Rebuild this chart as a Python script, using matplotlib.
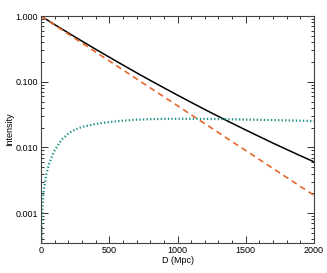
import matplotlib
matplotlib.use("Agg")
import matplotlib.pyplot as plt
from matplotlib.ticker import FixedLocator, MultipleLocator, LogLocator, NullFormatter

plt.rcParams['font.family'] = ['Liberation Sans', 'DejaVu Sans']

# distance grid (Mpc) for the two attenuation curves
dist = [0, 100, 200, 300, 400, 500, 600, 700, 800, 900, 1000,
        1100, 1200, 1300, 1400, 1500, 1600, 1700, 1800, 1900, 2000]
total = [1.0, 0.743, 0.555, 0.416, 0.313, 0.237, 0.180, 0.137, 0.105, 0.0809, 0.0625,
         0.0485, 0.0378, 0.0296, 0.0233, 0.0184, 0.0146, 0.0116, 0.00929, 0.00746, 0.00602]
direct = [1.0, 0.730, 0.533, 0.389, 0.284, 0.2075, 0.1515, 0.1106, 0.0808, 0.0590, 0.0431,
          0.0314, 0.0230, 0.0168, 0.0122, 0.00895, 0.00653, 0.00477, 0.00348, 0.00254, 0.00186]

# scattered component, finer near zero
dist_sc = [0, 5, 10, 20, 40, 60, 80, 100, 150, 200, 250, 300, 400, 500, 600, 700,
           800, 900, 1000, 1200, 1400, 1600, 1800, 2000]
scattered = [0.0001, 0.0006, 0.0012, 0.0022, 0.0040, 0.0057, 0.0073, 0.0090, 0.0130,
             0.0163, 0.0187, 0.0205, 0.0228, 0.0243, 0.0255, 0.0264, 0.0269, 0.0272,
             0.0273, 0.0272, 0.0268, 0.0263, 0.0258, 0.0252]

fig = plt.figure(figsize=(3.27, 2.73), dpi=100)
ax = fig.add_axes([0.1254, 0.110, 0.835, 0.831])

ax.plot(dist, total, color='black', lw=1.1)
ax.plot(dist, direct, color='#e5672a', lw=1.2, ls=(0, (3.5, 2.5)))
ax.plot(dist_sc, scattered, color='#1b9080', lw=1.6, ls=(0, (0.6, 1.0)))

ax.set_yscale('log')
ax.set_xlim(0, 2000)
ax.set_ylim(3.5e-4, 1.0)

ax.xaxis.set_major_locator(MultipleLocator(500))
ax.xaxis.set_minor_locator(MultipleLocator(100))
ax.yaxis.set_major_locator(FixedLocator([0.001, 0.01, 0.1, 1.0]))
ax.yaxis.set_minor_locator(LogLocator(base=10, subs=range(2, 10)))
ax.yaxis.set_minor_formatter(NullFormatter())
ax.set_yticklabels(['0.001', '0.010', '0.100', '1.000'])

ax.tick_params(which='both', direction='in', top=True, right=True,
               labelsize=6.5, colors='#333333', labelcolor='black', width=0.7, pad=2)
ax.tick_params(which='major', length=5)
ax.tick_params(which='minor', length=2.5)
for s in ax.spines.values():
    s.set_linewidth(0.8)
    s.set_color('#444444')

ax.set_xlabel('D (Mpc)', fontsize=6.5, labelpad=1)
ax.set_ylabel('Intensity', fontsize=6.5, labelpad=1)

fig.savefig('out.png', dpi=100)
